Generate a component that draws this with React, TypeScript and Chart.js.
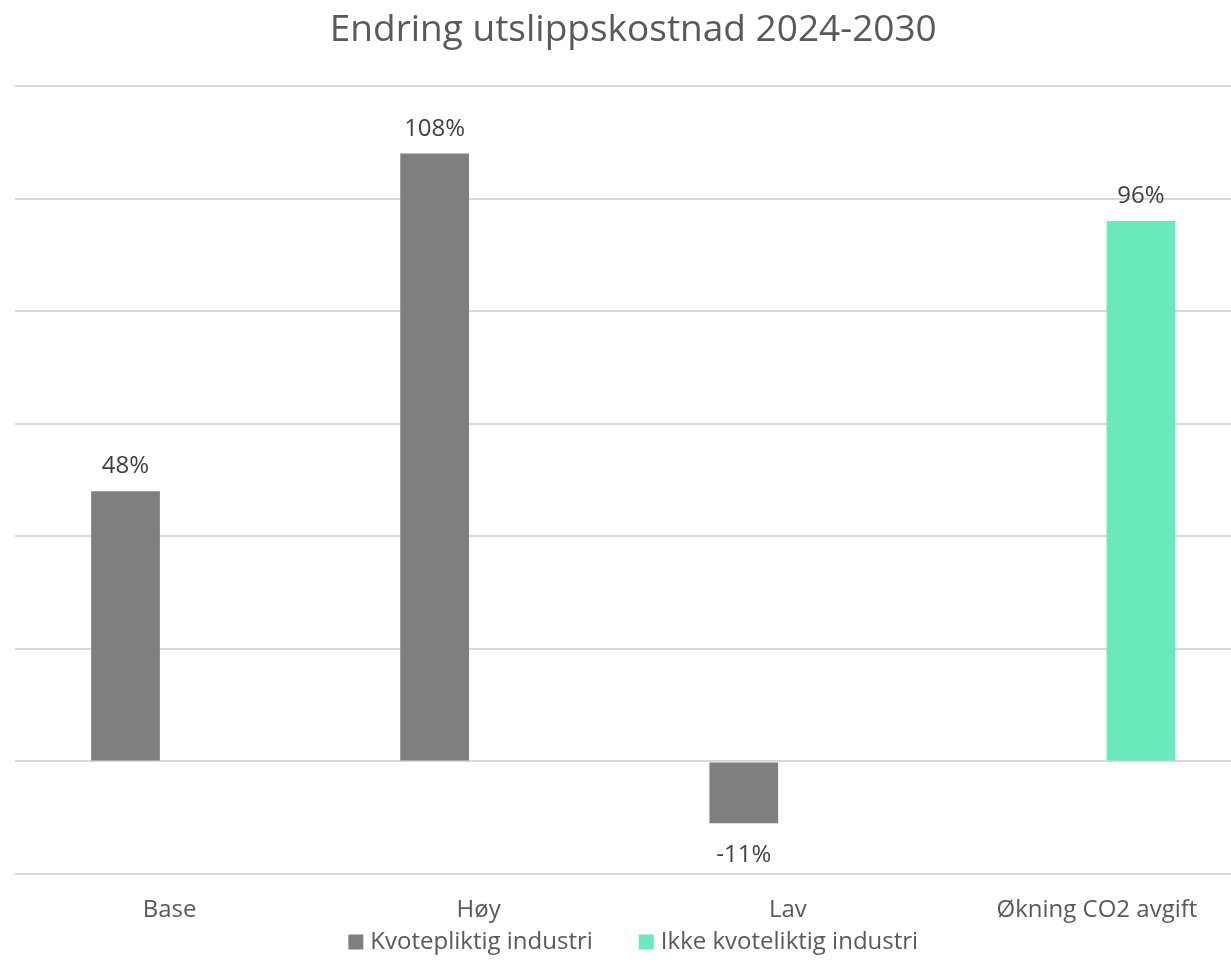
import React, { useEffect, useRef } from "react";
import { Chart, registerables } from "chart.js";

Chart.register(...registerables);

const TITLE = "Endring utslippskostnad 2024-2030";
const categories = ["Base", "Høy", "Lav", "Økning CO2 avgift"];
const seriesNames = ["Kvotepliktig industri", "Ikke kvoteliktig industri"];
const kvotepliktig = [48, 108, -11, null];
const ikkeKvotepliktig = [null, null, null, 96];
const colors = ["#7F7F7F", "#6AE9BA"];
const yMin = -20;
const yMax = 120;
const yStep = 20;

const FONT = '"Open Sans", "Noto Sans", sans-serif';

const dataLabelPlugin = {
  id: "dataLabels",
  afterDatasetsDraw(chart: any) {
    const ctx = chart.ctx;
    ctx.save();
    ctx.font = `24px ${FONT}`;
    ctx.fillStyle = "#404040";
    ctx.textAlign = "center";
    ctx.textBaseline = "alphabetic";
    chart.data.datasets.forEach((ds: any, i: number) => {
      const meta = chart.getDatasetMeta(i);
      meta.data.forEach((el: any, j: number) => {
        const v = ds.data[j];
        if (v === null || v === undefined) return;
        const y = v >= 0 ? el.y - 18 : el.y + 39;
        ctx.fillText(`${v}%`, el.x, y);
      });
    });
    ctx.restore();
  },
};

const legendPlugin = {
  id: "customLegend",
  afterDraw(chart: any) {
    const ctx = chart.ctx;
    ctx.save();
    ctx.font = `24px ${FONT}`;
    ctx.textBaseline = "middle";
    ctx.textAlign = "left";
    const box = 15;
    const gapText = 7;
    const gapItem = 46;
    const items = chart.data.datasets.map((ds: any) => ({
      text: ds.label,
      color: ds.backgroundColor,
      w: ctx.measureText(ds.label).width,
    }));
    const total =
      items.reduce((s: number, it: any) => s + box + gapText + it.w, 0) +
      gapItem * (items.length - 1);
    let x = (chart.chartArea.left + chart.chartArea.right) / 2 - total / 2;
    const y = chart.height - 36;
    items.forEach((it: any) => {
      ctx.fillStyle = it.color;
      ctx.fillRect(x, y - box / 2, box, box);
      x += box + gapText;
      ctx.fillStyle = "#595959";
      ctx.fillText(it.text, x, y);
      x += it.w + gapItem;
    });
    ctx.restore();
  },
};

export default function App() {
  const ref = useRef<HTMLCanvasElement | null>(null);

  useEffect(() => {
    document.body.style.margin = "0";
    const canvas = ref.current;
    if (!canvas) return;
    const chart = new Chart(canvas, {
      type: "bar",
      data: {
        labels: categories,
        datasets: [
          {
            label: seriesNames[0],
            data: kvotepliktig,
            backgroundColor: colors[0],
            categoryPercentage: 0.57,
            barPercentage: 0.78,
          },
          {
            label: seriesNames[1],
            data: ikkeKvotepliktig,
            backgroundColor: colors[1],
            categoryPercentage: 0.57,
            barPercentage: 0.78,
          },
        ],
      },
      options: {
        responsive: false,
        animation: false,
        devicePixelRatio: 1,
        layout: { padding: { left: 15, right: 8.5, top: 0, bottom: 32 } },
        plugins: {
          legend: { display: false },
          tooltip: { enabled: false },
          title: {
            display: true,
            text: TITLE,
            color: "#595959",
            font: { family: FONT, size: 37, weight: "normal" },
            padding: { top: 8, bottom: 33.6 },
          },
        },
        scales: {
          x: {
            grid: { display: false, drawTicks: false },
            border: { display: false },
            ticks: {
              color: "#595959",
              font: { family: FONT, size: 24 },
              padding: 21.6,
            },
          },
          y: {
            min: yMin,
            max: yMax,
            grid: { color: "#D9D9D9", lineWidth: 2, drawTicks: false },
            border: { display: false },
            ticks: { display: false, stepSize: yStep },
          },
        },
      },
      plugins: [dataLabelPlugin, legendPlugin],
    });
    return () => chart.destroy();
  }, []);

  return (
    <div
      style={{
        position: "fixed",
        left: 0,
        top: 0,
        width: 1231,
        height: 978,
        overflow: "hidden",
        background: "#fff",
      }}
    >
      <canvas ref={ref} width={1260} height={978} style={{ width: 1260, height: 978 }} />
    </div>
  );
}
